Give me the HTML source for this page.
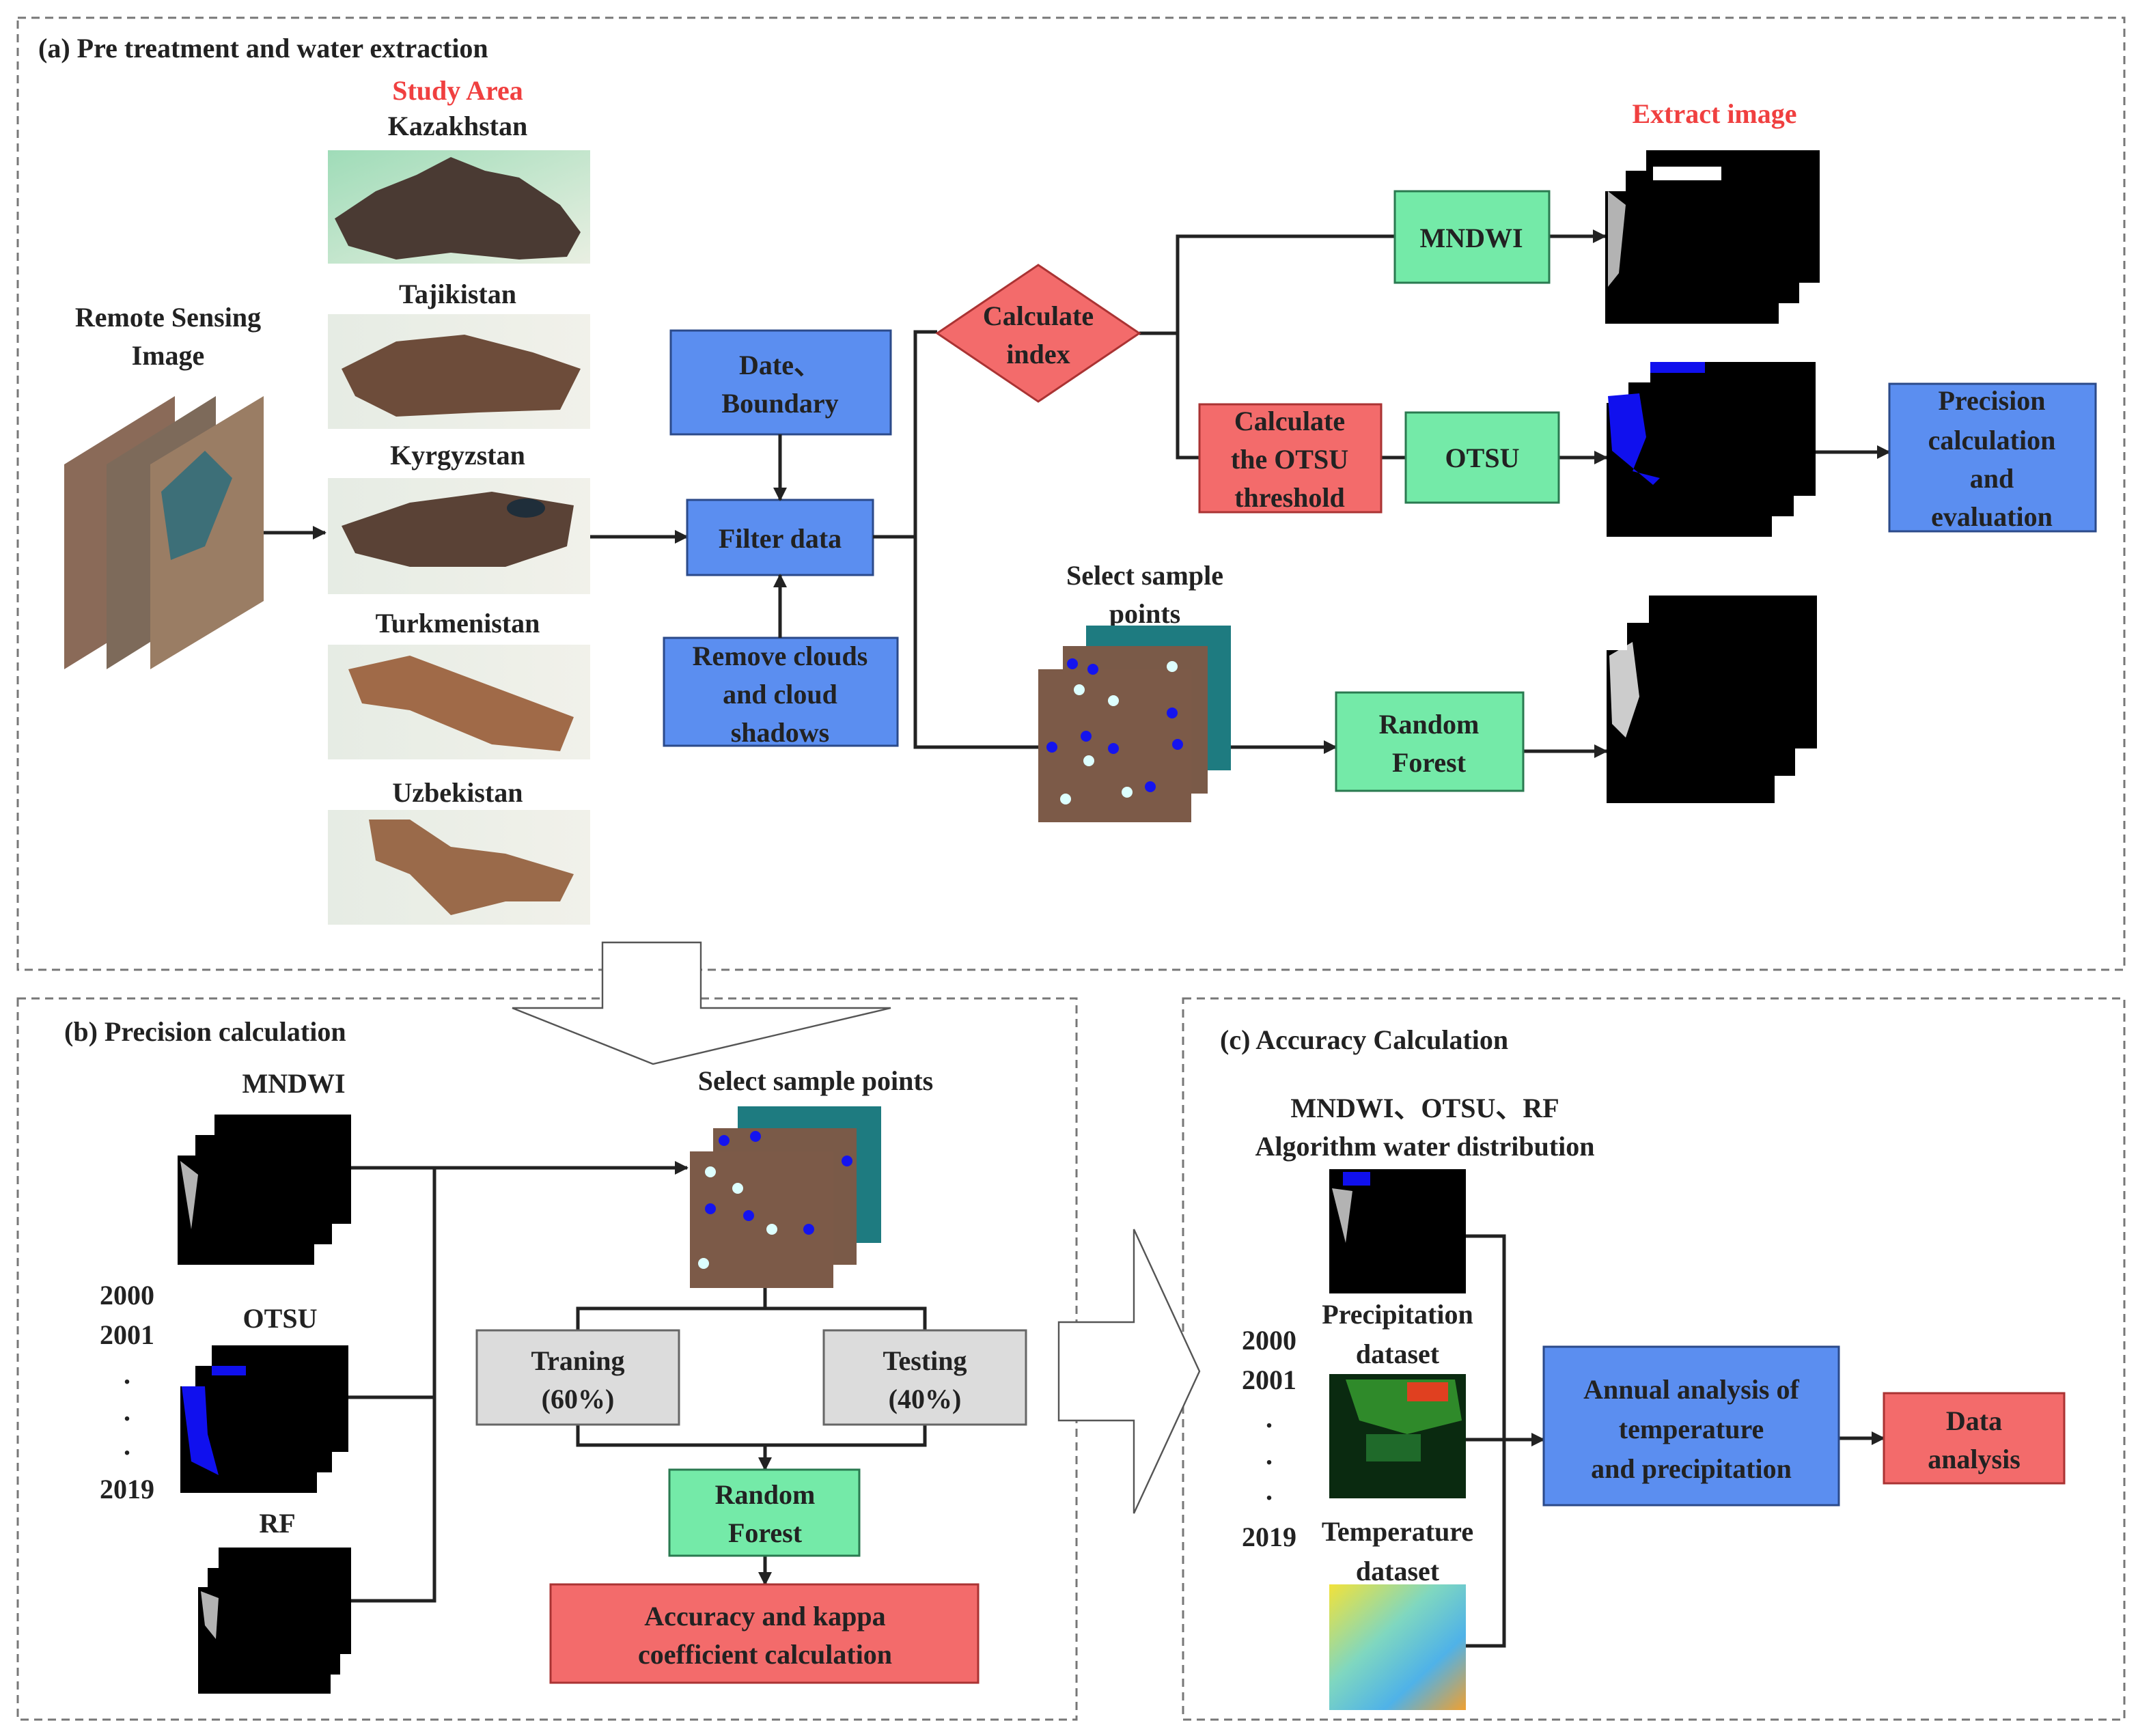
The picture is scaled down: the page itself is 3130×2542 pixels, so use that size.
<!DOCTYPE html>
<html><head><meta charset="utf-8"><style>html,body{margin:0;padding:0;background:#fff}svg{display:block}</style></head>
<body>
<svg xmlns="http://www.w3.org/2000/svg" width="3130" height="2542" viewBox="0 0 1565 1271" font-family="Liberation Serif, serif" font-weight="bold" font-size="20" fill="#222">
<defs>
<marker id="ar" markerWidth="10" markerHeight="10" refX="9" refY="5" orient="auto" markerUnits="userSpaceOnUse"><path d="M0,0 L10,5 L0,10 z" fill="#222"/></marker>
<linearGradient id="map" x1="0" y1="0" x2="1" y2="1"><stop offset="0" stop-color="#9fdcb8"/><stop offset="1" stop-color="#e9efe2"/></linearGradient>
<linearGradient id="map2" x1="0" y1="0" x2="1" y2="0"><stop offset="0" stop-color="#e6ece4"/><stop offset="1" stop-color="#f1f1ea"/></linearGradient>
<linearGradient id="temp" x1="0" y1="0" x2="1" y2="1"><stop offset="0" stop-color="#f2e23a"/><stop offset="0.4" stop-color="#7fd7c0"/><stop offset="0.7" stop-color="#4fb2e8"/><stop offset="1" stop-color="#f0a030"/></linearGradient>
<g id="bk"><rect width="1" height="1"/></g>
</defs>
<g fill="none" stroke="#777" stroke-width="1.5" stroke-dasharray="6,4">
<rect x="13" y="13" width="1542" height="697"/>
<rect x="13" y="731" width="775" height="528"/>
<rect x="866" y="731" width="689" height="528"/>
</g>
<text x="28" y="42">(a)  Pre treatment and water extraction</text>
<text x="47" y="762">(b)  Precision calculation</text>
<text x="893" y="768">(c)  Accuracy Calculation</text>

<!-- Remote sensing stack -->
<text x="123" y="239" text-anchor="middle">Remote Sensing</text>
<text x="123" y="267" text-anchor="middle">Image</text>
<polygon points="47,340 128,290 128,440 47,490" fill="#8a6a58"/>
<polygon points="78,340 158,290 158,440 78,490" fill="#7d6a5a"/>
<polygon points="110,340 193,290 193,440 110,490" fill="#9a7d64"/>
<path d="M118,360 L150,330 L170,350 L150,400 L125,410 z" fill="#3d6f78"/>
<line x1="193" y1="390" x2="238" y2="390" stroke="#222" stroke-width="2.5" marker-end="url(#ar)"/>

<!-- study area maps -->
<text x="335" y="73" text-anchor="middle" fill="#f04040">Study Area</text>
<text x="335" y="99" text-anchor="middle">Kazakhstan</text>
<rect x="240" y="110" width="192" height="83" fill="url(#map)"/>
<path d="M245,160 L275,140 L305,128 L330,115 L355,125 L380,130 L410,150 L425,170 L415,188 L380,190 L330,185 L290,190 L255,180 z" fill="#4a3a33"/>
<text x="335" y="222" text-anchor="middle">Tajikistan</text>
<rect x="240" y="230" width="192" height="84" fill="url(#map2)"/>
<path d="M250,270 L290,250 L340,245 L390,258 L425,270 L410,300 L350,302 L290,305 L260,290 z" fill="#6d4c3a"/>
<text x="335" y="340" text-anchor="middle">Kyrgyzstan</text>
<rect x="240" y="350" width="192" height="85" fill="url(#map2)"/>
<path d="M250,385 L300,368 L360,360 L420,370 L415,400 L370,415 L300,415 L260,405 z" fill="#5a4236"/>
<ellipse cx="385" cy="372" rx="14" ry="7" fill="#1f2e3a"/>
<text x="335" y="463" text-anchor="middle">Turkmenistan</text>
<rect x="240" y="472" width="192" height="84" fill="url(#map2)"/>
<path d="M255,490 L300,480 L340,495 L380,510 L420,525 L410,550 L360,545 L300,520 L265,515 z" fill="#a06a48"/>
<text x="335" y="587" text-anchor="middle">Uzbekistan</text>
<rect x="240" y="593" width="192" height="84" fill="url(#map2)"/>
<path d="M270,600 L300,600 L330,620 L370,625 L420,640 L410,660 L370,660 L330,670 L300,640 L275,630 z" fill="#9a6a4a"/>
<line x1="432" y1="393" x2="503" y2="393" stroke="#222" stroke-width="2.5" marker-end="url(#ar)"/>

<!-- filter -->
<g stroke="#2b4a8a" stroke-width="1.5" fill="#5b8ef0">
<rect x="491" y="242" width="161" height="76"/>
<rect x="503" y="366" width="136" height="55"/>
<rect x="486" y="467" width="171" height="79"/>
</g>
<text x="571" y="274" text-anchor="middle">Date、</text>
<text x="571" y="302" text-anchor="middle">Boundary</text>
<text x="571" y="401" text-anchor="middle">Filter data</text>
<text x="571" y="487" text-anchor="middle">Remove clouds</text>
<text x="571" y="515" text-anchor="middle">and cloud</text>
<text x="571" y="543" text-anchor="middle">shadows</text>
<g stroke="#222" stroke-width="2.5" fill="none">
<line x1="571" y1="318" x2="571" y2="366" marker-end="url(#ar)"/>
<line x1="571" y1="467" x2="571" y2="421" marker-end="url(#ar)"/>
<polyline points="639,393 670,393"/>
<polyline points="686,243 670,243 670,547 760,547"/>
<polyline points="834,244 862,244"/>
<polyline points="1021,173 862,173 862,335 878,335"/>
<line x1="1011" y1="335" x2="1029" y2="335"/>
<line x1="1134" y1="173" x2="1175" y2="173" marker-end="url(#ar)"/>
<line x1="1141" y1="335" x2="1176" y2="335" marker-end="url(#ar)"/>
<line x1="1329" y1="331" x2="1383" y2="331" marker-end="url(#ar)"/>
<line x1="900" y1="547" x2="978" y2="547" marker-end="url(#ar)"/>
<line x1="1115" y1="550" x2="1176" y2="550" marker-end="url(#ar)"/>
</g>
<polygon points="686,244 760,194 834,244 760,294" fill="#f36b6b" stroke="#a33" stroke-width="1.5"/>
<text x="760" y="238" text-anchor="middle">Calculate</text>
<text x="760" y="266" text-anchor="middle">index</text>
<rect x="1021" y="140" width="113" height="67" fill="#74eaa8" stroke="#2a7a50" stroke-width="1.5"/>
<text x="1077" y="181" text-anchor="middle">MNDWI</text>
<rect x="878" y="296" width="133" height="79" fill="#f36b6b" stroke="#a33" stroke-width="1.5"/>
<text x="944" y="315" text-anchor="middle">Calculate</text>
<text x="944" y="343" text-anchor="middle">the OTSU</text>
<text x="944" y="371" text-anchor="middle">threshold</text>
<rect x="1029" y="302" width="112" height="66" fill="#74eaa8" stroke="#2a7a50" stroke-width="1.5"/>
<text x="1085" y="342" text-anchor="middle">OTSU</text>
<rect x="1383" y="281" width="151" height="108" fill="#5b8ef0" stroke="#2b4a8a" stroke-width="1.5"/>
<text x="1458" y="300" text-anchor="middle">Precision</text>
<text x="1458" y="329" text-anchor="middle">calculation</text>
<text x="1458" y="357" text-anchor="middle">and</text>
<text x="1458" y="385" text-anchor="middle">evaluation</text>
<rect x="978" y="507" width="137" height="72" fill="#74eaa8" stroke="#2a7a50" stroke-width="1.5"/>
<text x="1046" y="537" text-anchor="middle">Random</text>
<text x="1046" y="565" text-anchor="middle">Forest</text>

<text x="1255" y="90" text-anchor="middle" fill="#f04040">Extract image</text>
<!-- black stacks -->
<g fill="#000">
<rect x="1205" y="110" width="127" height="97"/><rect x="1190" y="125" width="127" height="97"/><rect x="1175" y="140" width="127" height="97"/>
<rect x="1208" y="265" width="121" height="98"/><rect x="1192" y="280" width="121" height="98"/><rect x="1176" y="295" width="121" height="98"/>
<rect x="1207" y="436" width="123" height="112"/><rect x="1191" y="456" width="123" height="112"/><rect x="1176" y="476" width="123" height="112"/>
</g>
<rect x="1210" y="122" width="50" height="10" fill="#fff"/>
<path d="M1177,140 L1190,150 L1185,200 L1177,210z" fill="#fff" opacity="0.7"/>
<rect x="1208" y="265" width="40" height="8" fill="#1010ee"/>
<path d="M1177,290 L1200,288 L1205,320 L1195,345 L1215,350 L1210,355 L1180,330z" fill="#1010ee"/>
<path d="M1178,480 L1195,470 L1200,510 L1190,540 L1180,530z" fill="#fff" opacity="0.8"/>

<!-- sample points image -->
<text x="838" y="428" text-anchor="middle">Select sample</text>
<text x="838" y="456" text-anchor="middle">points</text>
<rect x="795" y="458" width="106" height="106" fill="#1e7b80"/>
<rect x="778" y="473" width="106" height="108" fill="#7a5a48"/>
<rect x="760" y="490" width="112" height="112" fill="#7c5a48"/>
<g fill="#1414ee"><circle cx="785" cy="486" r="4"/><circle cx="800" cy="490" r="4"/><circle cx="795" cy="539" r="4"/><circle cx="815" cy="548" r="4"/><circle cx="858" cy="522" r="4"/><circle cx="862" cy="545" r="4"/><circle cx="770" cy="547" r="4"/><circle cx="842" cy="576" r="4"/></g>
<g fill="#dff"><circle cx="790" cy="505" r="4"/><circle cx="815" cy="513" r="4"/><circle cx="858" cy="488" r="4"/><circle cx="797" cy="557" r="4"/><circle cx="780" cy="585" r="4"/><circle cx="825" cy="580" r="4"/></g>

<!-- hollow down arrow -->
<polygon points="441,690 513,690 513,738 652,738 478,779 375,738 441,738" fill="#fff" stroke="#555" stroke-width="1.2"/>

<!-- panel b -->
<text x="215" y="800" text-anchor="middle">MNDWI</text>
<text x="205" y="972" text-anchor="middle">OTSU</text>
<text x="203" y="1122" text-anchor="middle">RF</text>
<g fill="#000">
<rect x="157" y="816" width="100" height="80"/><rect x="143" y="831" width="100" height="80"/><rect x="130" y="846" width="100" height="80"/>
<rect x="155" y="985" width="100" height="78"/><rect x="143" y="1000" width="100" height="78"/><rect x="132" y="1015" width="100" height="78"/>
<rect x="160" y="1133" width="97" height="78"/><rect x="152" y="1148" width="97" height="78"/><rect x="145" y="1162" width="97" height="78"/>
</g>
<rect x="155" y="1000" width="25" height="7" fill="#1010ee"/>
<path d="M133,1015 L150,1015 L152,1050 L160,1080 L140,1070z" fill="#1010ee"/>
<path d="M132,850 L145,860 L140,900z" fill="#fff" opacity="0.7"/>
<path d="M147,1165 L160,1170 L158,1200 L150,1190z" fill="#fff" opacity="0.7"/>
<text x="93" y="955" text-anchor="middle">2000</text>
<text x="93" y="984" text-anchor="middle">2001</text>
<text x="93" y="1013" text-anchor="middle">.</text>
<text x="93" y="1040" text-anchor="middle">.</text>
<text x="93" y="1065" text-anchor="middle">.</text>
<text x="93" y="1097" text-anchor="middle">2019</text>
<g stroke="#222" stroke-width="2.5" fill="none">
<polyline points="257,855 318,855 318,1172 257,1172"/>
<line x1="255" y1="1023" x2="318" y2="1023"/>
<line x1="318" y1="855" x2="503" y2="855" marker-end="url(#ar)"/>
<polyline points="423,974 423,958 677,958 677,974"/>
<line x1="560" y1="943" x2="560" y2="958"/>
<polyline points="423,1043 423,1058 677,1058 677,1043"/>
<line x1="560" y1="1058" x2="560" y2="1076" marker-end="url(#ar)"/>
<line x1="560" y1="1139" x2="560" y2="1160" marker-end="url(#ar)"/>
</g>
<text x="597" y="798" text-anchor="middle">Select sample points</text>
<rect x="540" y="810" width="105" height="100" fill="#1e7b80"/>
<rect x="522" y="826" width="105" height="100" fill="#7a5a48"/>
<rect x="505" y="843" width="105" height="100" fill="#7c5a48"/>
<g fill="#1414ee"><circle cx="530" cy="835" r="4"/><circle cx="553" cy="832" r="4"/><circle cx="520" cy="885" r="4"/><circle cx="548" cy="890" r="4"/><circle cx="592" cy="900" r="4"/><circle cx="620" cy="850" r="4"/></g>
<g fill="#dff"><circle cx="520" cy="858" r="4"/><circle cx="540" cy="870" r="4"/><circle cx="565" cy="900" r="4"/><circle cx="515" cy="925" r="4"/></g>
<rect x="349" y="974" width="148" height="69" fill="#dcdcdc" stroke="#666" stroke-width="1.5"/>
<text x="423" y="1003" text-anchor="middle">Traning</text>
<text x="423" y="1031" text-anchor="middle">(60%)</text>
<rect x="603" y="974" width="148" height="69" fill="#dcdcdc" stroke="#666" stroke-width="1.5"/>
<text x="677" y="1003" text-anchor="middle">Testing</text>
<text x="677" y="1031" text-anchor="middle">(40%)</text>
<rect x="490" y="1076" width="139" height="63" fill="#74eaa8" stroke="#2a7a50" stroke-width="1.5"/>
<text x="560" y="1101" text-anchor="middle">Random</text>
<text x="560" y="1129" text-anchor="middle">Forest</text>
<rect x="403" y="1160" width="313" height="72" fill="#f36b6b" stroke="#a33" stroke-width="1.5"/>
<text x="560" y="1190" text-anchor="middle">Accuracy and kappa</text>
<text x="560" y="1218" text-anchor="middle">coefficient calculation</text>

<!-- hollow right arrow -->
<polygon points="775,968 830,968 830,900 878,1004 830,1108 830,1040 775,1040" fill="#fff" stroke="#555" stroke-width="1.2"/>

<!-- panel c -->
<text x="1043" y="818" text-anchor="middle">MNDWI、OTSU、RF</text>
<text x="1043" y="846" text-anchor="middle">Algorithm water distribution</text>
<rect x="973" y="856" width="100" height="91" fill="#000"/>
<rect x="983" y="858" width="20" height="10" fill="#1010ee"/>
<path d="M975,870 L990,872 L985,910z" fill="#fff" opacity="0.7"/>
<text x="1023" y="969" text-anchor="middle">Precipitation</text>
<text x="1023" y="998" text-anchor="middle">dataset</text>
<rect x="973" y="1006" width="100" height="91" fill="#0a2a10"/>
<path d="M985,1010 L1065,1010 L1070,1040 L1030,1050 L995,1040z" fill="#2f8a2a"/>
<rect x="1030" y="1012" width="30" height="14" fill="#e04020"/>
<rect x="1000" y="1050" width="40" height="20" fill="#1f6a2a"/>
<text x="1023" y="1128" text-anchor="middle">Temperature</text>
<text x="1023" y="1157" text-anchor="middle">dataset</text>
<rect x="973" y="1160" width="100" height="92" fill="url(#temp)"/>
<text x="929" y="988" text-anchor="middle">2000</text>
<text x="929" y="1017" text-anchor="middle">2001</text>
<text x="929" y="1045" text-anchor="middle">.</text>
<text x="929" y="1072" text-anchor="middle">.</text>
<text x="929" y="1098" text-anchor="middle">.</text>
<text x="929" y="1132" text-anchor="middle">2019</text>
<g stroke="#222" stroke-width="2.5" fill="none">
<polyline points="1073,905 1101,905 1101,1205 1073,1205"/>
<line x1="1073" y1="1054" x2="1130" y2="1054" marker-end="url(#ar)"/>
<line x1="1346" y1="1053" x2="1379" y2="1053" marker-end="url(#ar)"/>
</g>
<rect x="1130" y="986" width="216" height="116" fill="#5b8ef0" stroke="#2b4a8a" stroke-width="1.5"/>
<text x="1238" y="1024" text-anchor="middle">Annual analysis of</text>
<text x="1238" y="1053" text-anchor="middle">temperature</text>
<text x="1238" y="1082" text-anchor="middle">and precipitation</text>
<rect x="1379" y="1020" width="132" height="66" fill="#f36b6b" stroke="#a33" stroke-width="1.5"/>
<text x="1445" y="1047" text-anchor="middle">Data</text>
<text x="1445" y="1075" text-anchor="middle">analysis</text>
</svg>
</body></html>
